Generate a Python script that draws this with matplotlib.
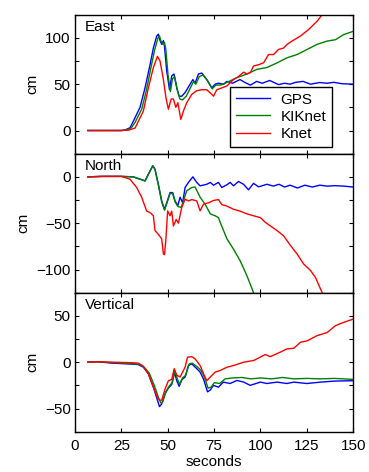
import matplotlib
matplotlib.use("Agg")
import matplotlib.pyplot as plt
from matplotlib.ticker import MultipleLocator

plt.rcParams["font.family"] = ["Liberation Sans", "DejaVu Sans"]
plt.rcParams["font.size"] = 11

# --- East ---
t_east_gps = [7, 15, 25, 27, 29.7, 31.5, 35.1, 37.8, 40.5, 42.3, 44.1, 45, 45.9, 46.8, 47.7, 48.3,
              49.5, 51, 52.2, 53.4, 54.9, 56.2, 57.6, 59.4, 62.1, 63.6, 64.8, 66.6, 68.4, 71.1,
              73.8, 75.6, 77.4, 80.1, 81.9, 85, 89, 91.5, 94.6, 98, 101, 105, 109.8, 113,
              116, 119, 123, 127, 132, 136, 139.6, 144, 150]
east_gps = [0, 0, 0, 0.5, 3, 10, 25, 46, 71, 89, 102, 104, 97, 93, 97, 91,
            64, 44, 59, 61, 46, 37, 37, 41, 50, 55, 51, 61, 62, 55,
            46, 50, 51, 50, 53, 51, 55, 52, 49, 53, 51, 54, 49.5, 51,
            50, 52, 53, 50, 51.8, 51, 52, 50.5, 50]
t_east_kik = [7, 15, 25, 28, 30.5, 32.5, 36, 38.5, 41, 43, 44.8, 45.6, 46.5, 47.4, 48.3, 49,
              50.2, 51.5, 52.6, 53.8, 55.2, 56.6, 58, 60, 62.5, 64, 65.2, 67, 69, 71.4,
              74, 76, 78.3, 80, 82, 87.3, 92.8, 98.1, 103.5, 109, 114.4, 119.8, 125.2,
              130.6, 136, 140.5, 145, 150]
east_kik = [0, 0, 0, 0.5, 3, 9, 23, 43, 68, 87, 100, 102, 96, 93, 95, 88,
            60, 42, 56, 58, 44, 34, 33, 37, 47, 53, 50, 58, 60, 54,
            45, 49, 49, 50, 52, 57, 61, 66, 68, 73, 78.5, 82, 87.5,
            93, 96.5, 98, 103.6, 107]
t_east_knet = [7, 15, 25, 29, 32.4, 36.9, 39.6, 42.3, 44.5, 45.9, 47.7, 49.2, 50.4, 51.9, 53.1,
               54.4, 55.5, 57.1, 58.5, 60.3, 63, 65.7, 68.4, 71.1, 73.8, 74.7, 76.5, 79.2,
               81.9, 85.5, 88, 91, 92.8, 94.6, 96.3, 99, 101.7, 104.4, 107.1, 109.8, 112.5,
               114.4, 117.1, 121.6, 126, 130.6, 133.3]
east_knet = [0, 0, 0, 0.5, 2.6, 21, 46, 68, 80, 75, 55, 34, 23, 34, 34,
             25, 30, 12, 21, 30, 39, 43, 44, 44, 39, 37, 44, 46,
             48, 55, 58, 63, 61, 62.5, 69.6, 71, 73, 82, 82, 87.5, 89,
             93, 96.6, 102, 109, 118, 125]

# --- North ---
t_north_gps = [7, 15, 25, 31.5, 35.1, 37.8, 39.6, 42, 43.2, 45, 46.8, 48.3, 49.5, 51.3, 52.7,
               54, 55.5, 56.7, 58.1, 59.4, 61.2, 63.6, 65.7, 67.5, 71.1, 73, 74.7, 77.4, 79.2,
               81.9, 83.7, 85.5, 88.2, 90.9, 93.6, 96.3, 99, 103.5, 107, 110, 113, 116, 120,
               124, 128, 132, 136, 140, 145, 150]
north_gps = [0, 0.5, 0.5, 0, -2.5, -4.3, 3, 12, 8, -8, -26, -35, -28, -17, -17,
             -26, -31, -22, -28, -11.5, -6, 0, -6, -9.7, -8, -6, -9, -6, -11.5,
             -8.6, -6, -9.7, -5, -8, -14, -7, -10.8, -8, -10, -8, -11, -9, -12,
             -9, -11, -9, -10, -9.5, -10, -11]
t_north_kik = [7, 15, 25, 31.5, 35.1, 37.8, 39.6, 42, 43.2, 45, 46.8, 48.3, 49.5, 51.3, 52.7,
               54, 55.5, 57.3, 60.3, 63, 64.8, 67.5, 70.2, 73, 75.6, 77.4, 78.3, 82, 85.5,
               89.1, 92.8, 96.3]
north_kik = [0, 0.5, 0.5, 0, -2.5, -4.5, 2.5, 12, 8, -9, -27, -36, -29, -18, -18,
             -27, -32, -33, -15, -11.5, -11, -22, -29.5, -40, -42, -44, -49, -67, -78,
             -90.6, -107, -125]
t_north_knet = [7, 15, 25, 29.7, 33.3, 36, 38.7, 40.5, 42.3, 43.2, 45, 46.8, 47.7, 48.3, 49,
                50, 51.3, 52.2, 53.1, 54.6, 55.8, 57.6, 59.4, 61.2, 63, 65.7, 67.5, 69.3, 72,
                74.7, 77.4, 79.2, 82, 85.5, 89.1, 92.8, 96.3, 100, 102.6, 105.4, 109, 112.5,
                116.2, 119.7, 123.3, 127, 129.7, 133.3]
north_knet = [0, 0.5, 0.5, -2.5, -11.5, -22, -37, -38.5, -42, -58, -62, -67, -83, -84, -69,
              -36.7, -42, -37, -53, -46, -50, -33, -24, -26, -24.5, -26, -36.7, -29.5, -28,
              -25.5, -24.5, -30, -31.6, -35, -37, -40, -42, -44, -49, -53, -58, -63.6,
              -74, -83, -94, -101, -108.6, -125]

# --- Vertical ---
t_vert_gps = [7, 12, 20, 30, 34, 36.9, 39.6, 42.3, 44.5, 45.6, 46.8, 48.6, 50.4, 52.2, 53.7,
              54.9, 56.2, 57.6, 59.4, 61.2, 63, 65.7, 67.5, 69.3, 71.5, 73, 74.7, 77.4, 80,
              83.7, 87.3, 91, 94.5, 100, 103.5, 109, 114.3, 118, 125, 132.5, 140, 150]
vert_gps = [0, 0.5, -1, -2, -2.5, -5.4, -12.5, -27, -41, -48, -45, -34, -28, -24, -10.7,
            -20, -26, -19, -16, -3.6, -1.8, -7, -10.7, -18, -32, -30, -25, -27, -21.5,
            -23, -19.7, -21.5, -25, -21.5, -23, -21.5, -23, -21.5, -23, -21.5, -20.4, -20]
t_vert_kik = [7, 12, 20, 30, 34, 37.2, 40, 42.8, 45, 46.3, 47.3, 49, 50.8, 52.5, 53.9,
              55.2, 56.5, 58, 59.8, 61.5, 63.2, 66, 68, 69.8, 71.8, 73.4, 75.2, 78, 81,
              85, 90, 95, 100, 106, 112, 118, 125, 132, 140, 150]
vert_kik = [0, 0.5, -0.5, -1.5, -2, -5, -11.5, -25, -38, -44, -43, -32, -26, -22, -9,
            -18, -24, -17, -14, -2, -1, -5, -9, -16, -28, -27, -22, -23, -18,
            -17, -16.5, -18, -17, -18, -16.5, -18, -17.5, -18, -17.5, -18.6]
t_vert_knet = [7, 12, 20, 30, 34, 36.5, 39.6, 42.3, 44.5, 45.6, 46.8, 48.6, 50.4, 52.2, 53.5,
               54.9, 56.7, 59.4, 60.7, 63, 64.8, 67.5, 69.7, 71.1, 73, 75.6, 78.3, 82, 85.5,
               91, 96.3, 99.9, 102.6, 105.3, 110.7, 114.4, 118, 121.6, 125.2, 130.6, 136,
               140.5, 145, 150]
vert_knet = [0, 0.5, 0, -0.5, -1, -3.6, -12.5, -27, -38, -41, -41, -29, -20, -18.6, -7,
             -14, -16, -5.4, 5.4, 6, 3.6, -3.6, -14, -20, -16, -10.7, -9, -5.4, -3.6,
             0, 1.8, 5.4, 8.3, 6, 10.8, 14.4, 15, 21.5, 23, 28.7, 32, 39.5, 43, 46.5]

panels = [
    ("East", (-25, 125), [(t_east_gps, east_gps), (t_east_kik, east_kik), (t_east_knet, east_knet)]),
    ("North", (-125, 25), [(t_north_gps, north_gps), (t_north_kik, north_kik), (t_north_knet, north_knet)]),
    ("Vertical", (-75, 75), [(t_vert_gps, vert_gps), (t_vert_kik, vert_kik), (t_vert_knet, vert_knet)]),
]
names = ["GPS", "KIKnet", "Knet"]
colors = ["#0000ff", "#008000", "#ff0000"]

fig = plt.figure(figsize=(3.69, 4.72), dpi=100)
left, width = 0.203, 0.754
h = 0.2945
bottom0 = 0.0854

for i, (title, ylim, series) in enumerate(panels):
    ax = fig.add_axes([left, bottom0 + (2 - i) * h, width, h])
    for (t, v), c, n in zip(series, colors, names):
        ax.plot(t, v, color=c, lw=1.0, label=n)
    ax.set_xlim(0, 150)
    ax.set_ylim(*ylim)
    ax.xaxis.set_major_locator(MultipleLocator(25))
    ax.yaxis.set_major_locator(MultipleLocator(50))
    ax.yaxis.set_minor_locator(MultipleLocator(25))
    ax.tick_params(which="both", direction="in", top=True, right=True, length=3, width=0.8)
    ax.tick_params(axis="y", labelsize=11, pad=3)
    ax.tick_params(axis="x", labelsize=11, pad=5)
    for s in ax.spines.values():
        s.set_linewidth(1.0)
    ax.set_ylabel("cm", fontsize=11, labelpad=4)
    ax.text(0.035, 0.96, title, transform=ax.transAxes, ha="left", va="top", fontsize=11)
    if i < 2:
        ax.tick_params(labelbottom=False)
    else:
        ax.set_xlabel("seconds", fontsize=11, labelpad=2)
    if i == 0:
        leg = ax.legend(loc="lower right", bbox_to_anchor=(0.925, 0.048), fancybox=False,
                        edgecolor="black", framealpha=1, fontsize=11, handlelength=2.2,
                        borderpad=0.4, labelspacing=0.2, handletextpad=0.7, borderaxespad=0)
        leg.get_frame().set_linewidth(1.0)

fig.savefig("out.png", dpi=100)
